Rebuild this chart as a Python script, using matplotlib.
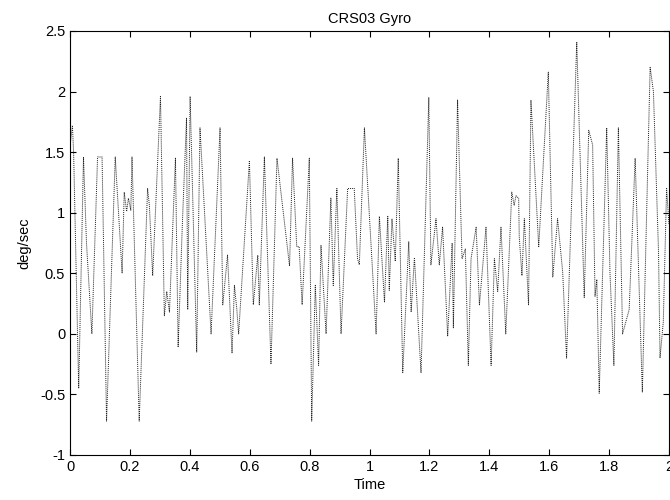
import matplotlib
matplotlib.use("Agg")
import matplotlib.pyplot as plt

plt.rcParams['font.family'] = ['Liberation Sans', 'DejaVu Sans']

time_s = [0.000, 0.008, 0.012, 0.029, 0.045, 0.055, 0.073, 0.092, 0.107, 0.122, 0.151,
          0.174, 0.181, 0.189, 0.195, 0.203, 0.207, 0.231, 0.259, 0.265, 0.276, 0.302,
          0.315, 0.323, 0.332, 0.352, 0.361, 0.375, 0.389, 0.393, 0.401, 0.423,
          0.434, 0.471, 0.501, 0.510, 0.526, 0.541, 0.549, 0.557, 0.563, 0.599, 0.612,
          0.627, 0.632, 0.649, 0.671, 0.691,
          0.733, 0.743, 0.757, 0.765, 0.775, 0.799, 0.807, 0.819, 0.830, 0.838, 0.855,
          0.871, 0.879, 0.891, 0.905, 0.927, 0.949, 0.960,
          0.966, 0.983, 1.022, 1.033, 1.050, 1.061, 1.066, 1.075, 1.086, 1.096, 1.111,
          1.131, 1.139, 1.150, 1.172, 1.198, 1.205, 1.222,
          1.233, 1.244, 1.261, 1.276, 1.280, 1.294, 1.309, 1.320, 1.330, 1.339, 1.356,
          1.367, 1.389, 1.406, 1.417, 1.428, 1.439, 1.455, 1.475, 1.483, 1.489, 1.498,
          1.500, 1.509, 1.517, 1.531, 1.539, 1.565, 1.597, 1.612, 1.628, 1.645, 1.658,
          1.692, 1.717, 1.732, 1.745, 1.753, 1.759, 1.767,
          1.792, 1.803, 1.816, 1.831, 1.845, 1.867, 1.887, 1.911, 1.937, 1.948, 1.965,
          1.970, 1.981, 1.992, 2.000]

rate_dps = [1.55, 1.72, 1.50, -0.45, 1.46, 0.75, 0.00, 1.46, 1.46, -0.72, 1.46,
            0.50, 1.17, 1.01, 1.12, 1.02, 1.46, -0.72, 1.20, 1.06, 0.48, 1.96,
            0.15, 0.35, 0.18, 1.45, -0.11, 0.90, 1.78, 0.20, 1.96, -0.15,
            1.70, 0.00, 1.70, 0.24, 0.65, -0.16, 0.40, 0.20, 0.00, 1.43, 0.24,
            0.65, 0.24, 1.46, -0.25, 1.45,
            0.56, 1.45, 0.72, 0.72, 0.24, 1.45, -0.72, 0.40, -0.26, 0.73, 0.00,
            1.12, 0.40, 1.20, 0.00, 1.20, 1.20, 0.62,
            0.57, 1.70, 0.00, 0.97, 0.26, 0.97, 0.36, 0.95, 0.60, 1.45, -0.32,
            0.76, 0.18, 0.63, -0.32, 1.95, 0.57, 0.95,
            0.57, 0.88, -0.02, 0.75, 0.05, 1.93, 0.62, 0.70, -0.26, 0.62, 0.88,
            0.24, 0.88, -0.26, 0.62, 0.35, 0.88, 0.00, 1.17, 1.06, 1.14, 1.12,
            0.80, 0.48, 0.95, 0.24, 1.93, 0.72, 2.16, 0.47, 0.95, 0.51, -0.20,
            2.41, 0.30, 1.68, 1.56, 0.31, 0.45, -0.49,
            1.70, 0.50, -0.26, 1.70, 0.00, 0.20, 1.45, -0.48, 2.20, 2.00, 0.68,
            -0.20, 0.10, 1.20, 0.90]

x_ticks = [0, 0.2, 0.4, 0.6, 0.8, 1, 1.2, 1.4, 1.6, 1.8, 2]
x_labels = ["0", "0.2", "0.4", "0.6", "0.8", "1", "1.2", "1.4", "1.6", "1.8", "2"]
y_ticks = [-1, -0.5, 0, 0.5, 1, 1.5, 2, 2.5]
y_labels = ["-1", "-0.5", "0", "0.5", "1", "1.5", "2", "2.5"]

fig = plt.figure(figsize=(6.7, 5.0), dpi=100)
ax = fig.add_axes([0.1045, 0.09, 0.894, 0.848])
ax.plot(time_s, rate_dps, color='#222222', linestyle=(0, (1, 1)), linewidth=0.7)
ax.set_xlim(0, 2)
ax.set_ylim(-1, 2.5)
ax.set_xticks(x_ticks)
ax.set_xticklabels(x_labels)
ax.set_yticks(y_ticks)
ax.set_yticklabels(y_labels)
ax.tick_params(direction='in', top=True, right=True, length=4, width=0.8, labelsize=10.5)
for s in ax.spines.values():
    s.set_linewidth(0.8)
ax.set_title("CRS03 Gyro", fontsize=10.5, pad=6)
ax.set_xlabel("Time", fontsize=10.5, labelpad=3)
ax.set_ylabel("deg/sec", fontsize=10.5, labelpad=6)
fig.savefig("out.png", dpi=100)
